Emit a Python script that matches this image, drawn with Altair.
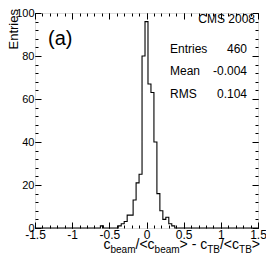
import altair as alt
import numpy as np
import pandas as pd

# ---------------- data ----------------
X_MIN, X_MAX, BIN_W = -1.5, 1.5, 0.04
bin_centers = [-0.60, -0.36, -0.32, -0.28, -0.24, -0.20, -0.16, -0.12, -0.08, -0.04, 0.00,
               0.04, 0.08, 0.12, 0.16, 0.20, 0.24, 0.28, 0.32, 0.36]
bin_counts = [1, 1, 2, 3, 6, 6, 13, 21, 25, 80, 96,
              67, 63, 40, 16, 8, 4, 5, 2, 1]

x_labels = [-1.5, -1.0, -0.5, 0.0, 0.5, 1.0, 1.5]
y_labels = [0, 20, 40, 60, 80, 100]
x_minor = [round(v, 2) for v in np.arange(-1.5, 1.5001, 0.1)]
y_minor = list(range(0, 101, 4))

stat_names = ["Entries", "Mean", "RMS"]
stat_values = ["460", "-0.004", "0.104"]
experiment = "CMS 2008"
panel = "(a)"
y_title = "Entries"
# x title pieces: (text, is_subscript)
x_title = [("c", False), ("beam", True), ("/<c", False), ("beam", True),
           ("> - c", False), ("TB", True), ("/<c", False), ("TB", True), (">", False)]

# ---------------- histogram table ----------------
n_bins = int(round((X_MAX - X_MIN) / BIN_W))
lookup = {int(round((c - X_MIN) / BIN_W - 0.5)): n for c, n in zip(bin_centers, bin_counts)}
edges = [round(X_MIN + i * BIN_W, 4) for i in range(n_bins)] + [X_MAX]
counts = [lookup.get(i, 0) for i in range(n_bins)] + [0]
df = pd.DataFrame({"edge": edges, "count": counts})

W, H = 223, 215
FONT = "Liberation Sans"
xs = alt.Scale(domain=[X_MIN, X_MAX], nice=False, zero=False)
ys = alt.Scale(domain=[0, 100], nice=False, zero=False)

main = alt.Chart(df).mark_line(interpolate="step-after", color="black", strokeWidth=1.1).encode(
    x=alt.X("edge:Q", scale=xs, axis=alt.Axis(
        orient="bottom", values=x_labels, ticks=False, domain=False, grid=False, title=None,
        labelFontSize=12, labelPadding=1, labelColor="black", labelFlush=False,
        labelOverlap=False, labelExpr="datum.value + ''")),
    y=alt.Y("count:Q", scale=ys, axis=alt.Axis(
        orient="left", values=y_labels, ticks=False, domain=False, grid=False, title=None,
        labelFontSize=11, labelPadding=1, labelColor="black", labelFlush=False,
        labelOverlap=False)),
)


def tick_layer(channel, orient, values, size):
    ax = alt.Axis(orient=orient, values=values, tickSize=size, offset=-size, labels=False,
                  domain=False, grid=False, title=None, tickColor="black", tickWidth=1)
    if channel == "x":
        enc = dict(x=alt.X("edge:Q", scale=xs, axis=ax), y=alt.Y("count:Q", scale=ys, axis=None))
    else:
        enc = dict(x=alt.X("edge:Q", scale=xs, axis=None), y=alt.Y("count:Q", scale=ys, axis=ax))
    return alt.Chart(df).mark_line(opacity=0).encode(**enc)


ticks = [
    tick_layer("x", "bottom", x_labels, 6), tick_layer("x", "bottom", x_minor, 3),
    tick_layer("x", "top", x_labels, 6), tick_layer("x", "top", x_minor, 3),
    tick_layer("y", "left", y_labels, 6), tick_layer("y", "left", y_minor, 3),
    tick_layer("y", "right", y_labels, 6), tick_layer("y", "right", y_minor, 3),
]


def text_layer(txt, x, y, size, align="left", baseline="middle", angle=0):
    props = dict(align=align, baseline=baseline, fontSize=size, font=FONT, color="black")
    if angle:
        props["angle"] = angle
    return alt.Chart(pd.DataFrame({"t": [txt]})).mark_text(**props).encode(
        x=alt.value(x), y=alt.value(y), text="t:N")


texts = []
texts.append(text_layer(experiment, 220, 6, 12, align="right"))
texts.append(text_layer(panel, 13, 26, 20))
row_y = [36, 58, 81]
for name, val, yy in zip(stat_names, stat_values, row_y):
    texts.append(text_layer(name, 135, yy, 12))
    texts.append(text_layer(val, 212, yy, 12, align="right"))
# rotated y title, reading bottom-to-top, ending at the top of the drawing area
texts.append(text_layer(y_title, -17.3, -4, 13, align="right", baseline="alphabetic", angle=270))

# compose x title with sub-scripts (Arial / Liberation Sans advance widths)
ADV = {"c": 500, "b": 556, "e": 556, "a": 556, "m": 833, "/": 278, "<": 584, ">": 584,
       " ": 278, "-": 333, "T": 611, "B": 667}
F_MAIN, F_SUB = 14, 10
widths = [sum(ADV[ch] for ch in s) / 1000 * (F_SUB if sub else F_MAIN) for s, sub in x_title]
xpos = 225 - sum(widths)
for (s, sub), w in zip(x_title, widths):
    texts.append(text_layer(s, xpos, 239.5 if sub else 236, F_SUB if sub else F_MAIN,
                            baseline="alphabetic"))
    xpos += w

chart = alt.layer(main, *ticks, *texts).resolve_axis(
    x="independent", y="independent"
).properties(
    width=W, height=H,
    autosize=alt.AutoSizeParams(type="none"),
    padding={"left": 27, "top": 5, "right": 8, "bottom": 25},
).configure_view(stroke="black", strokeWidth=1).configure(font=FONT)

chart.save("out.html", embed_options={"renderer": "svg", "actions": False})
